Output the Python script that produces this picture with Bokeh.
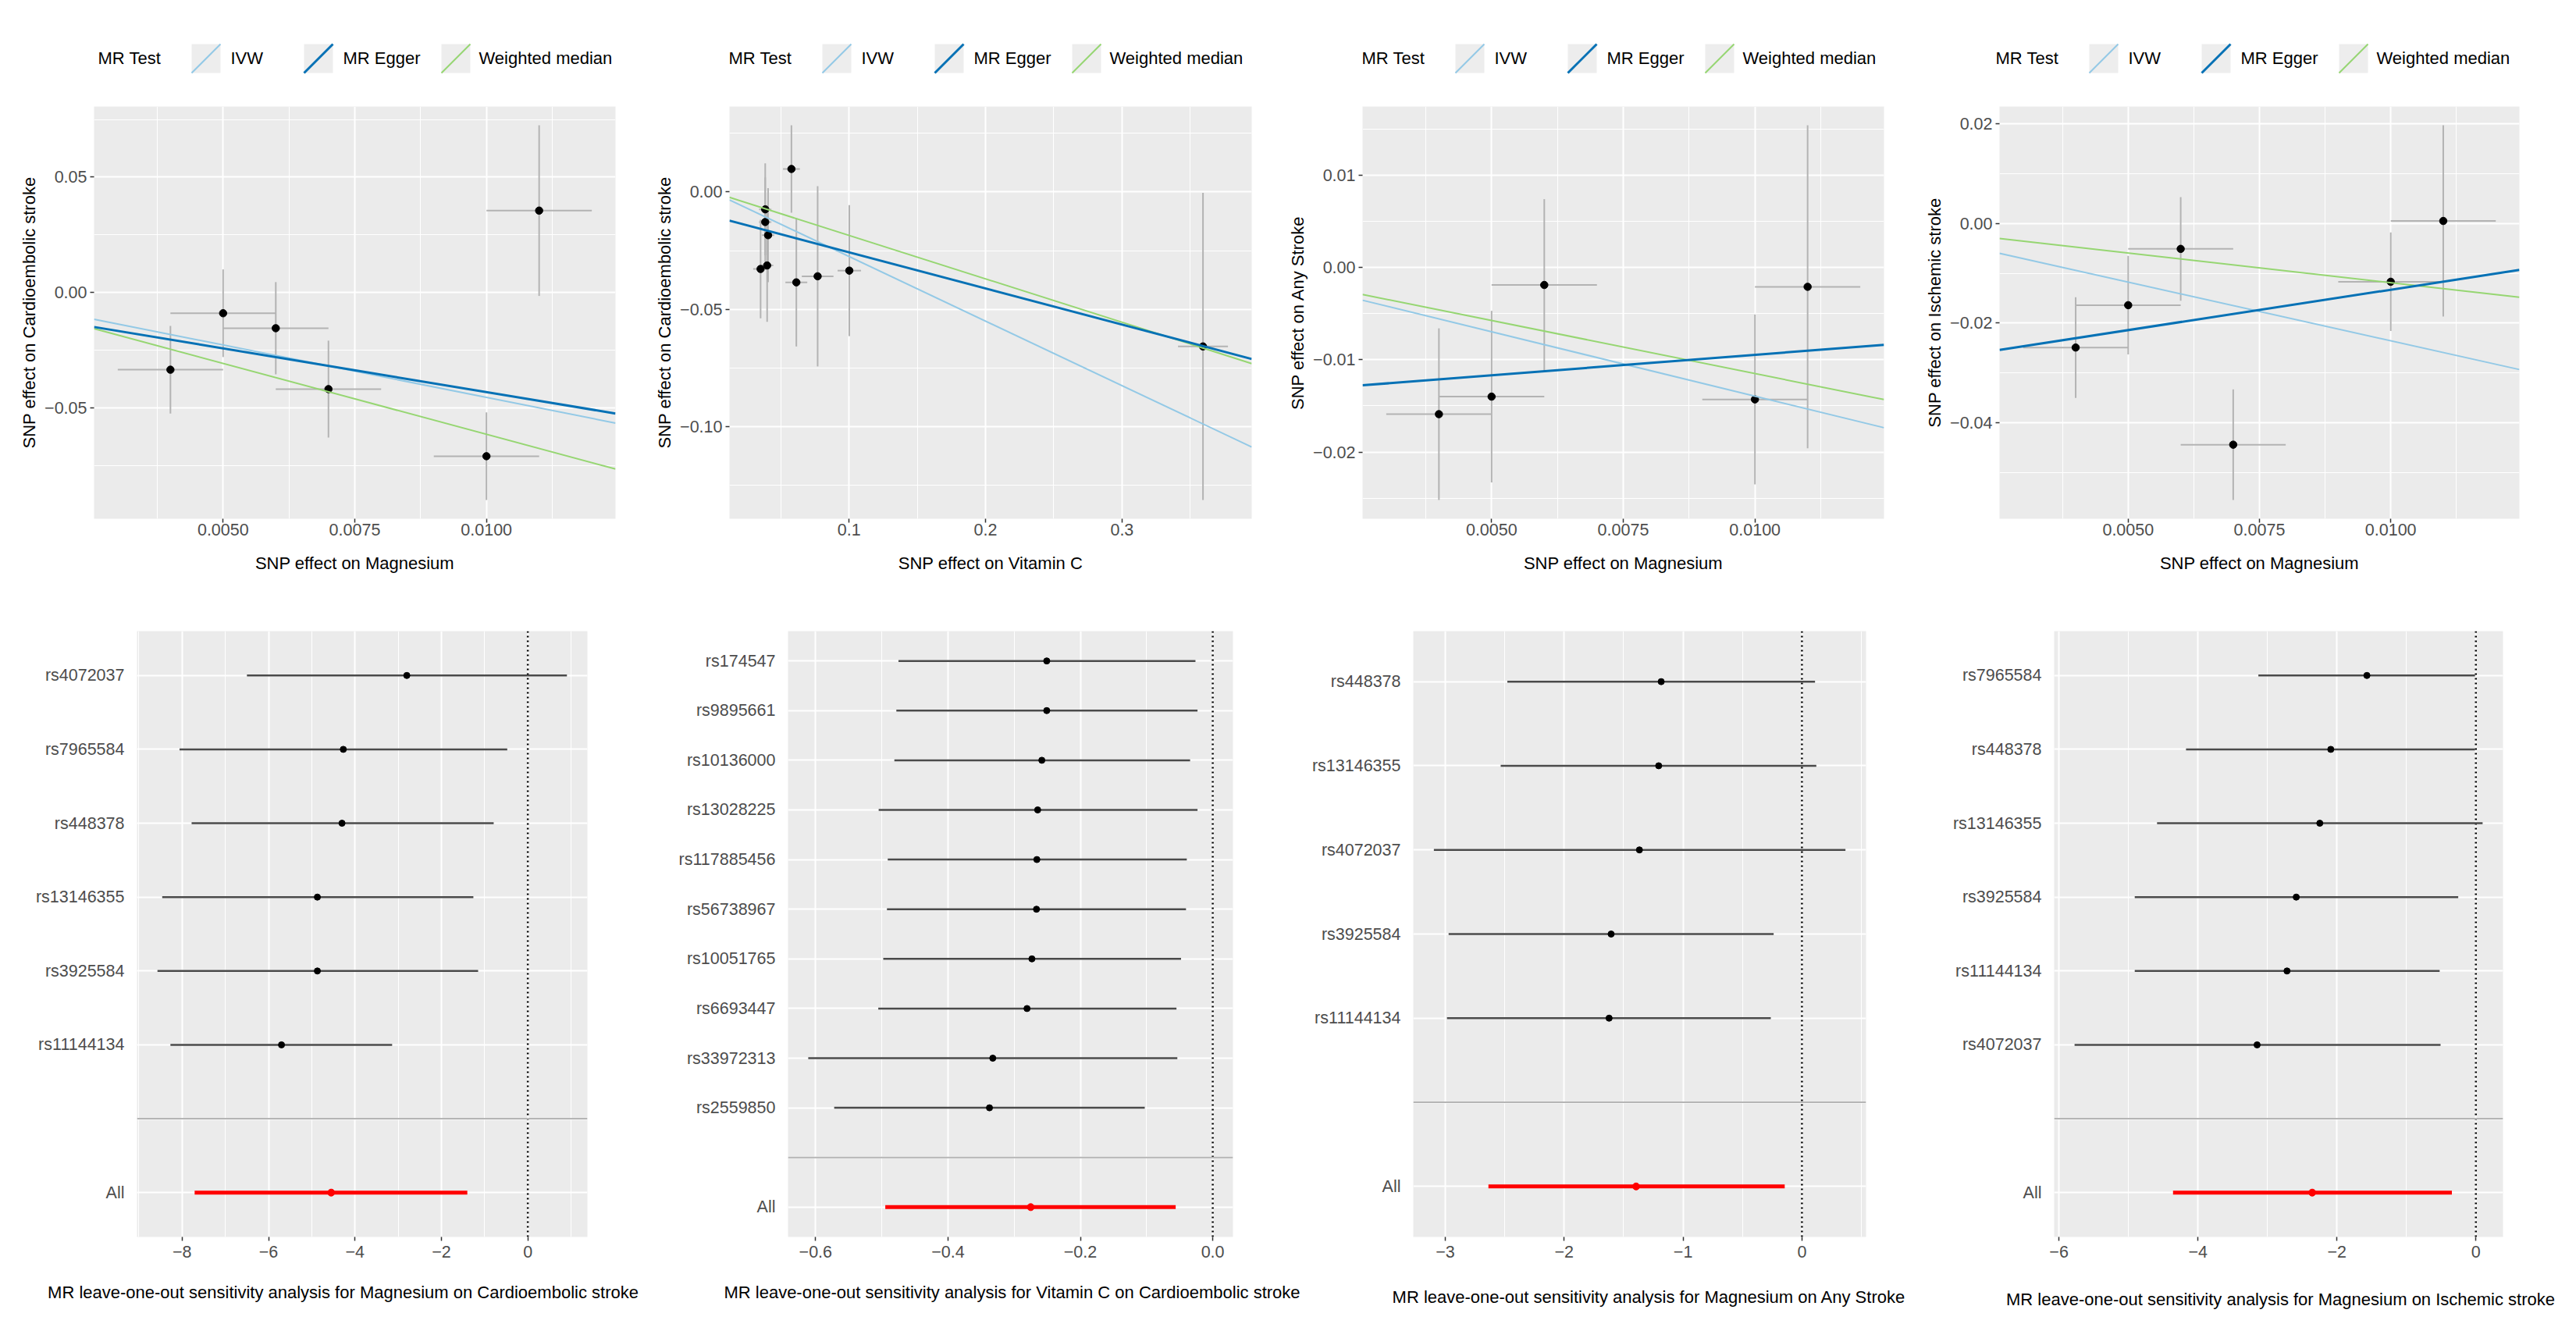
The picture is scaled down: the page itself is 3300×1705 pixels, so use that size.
from bokeh.plotting import figure
from bokeh.layouts import column, row
from bokeh.models import Range1d, FixedTicker, CustomJSTickFormatter, Span
from bokeh.embed import file_html
from bokeh.resources import INLINE
from bokeh.core.properties import value

FONT = "Liberation Sans"
TICK_SIZE = "21.5px"
TITLE_SIZE = "22px"

# MR methods shown in the scatter panels (order: IVW, MR Egger, Weighted median)
METHODS = ["IVW", "MR Egger", "Weighted median"]
METHOD_COLORS = ["#93C9E6", "#0571B5", "#96D672"]
METHOD_WIDTHS = [2, 3, 2]

# ---------------- SNP effects: Magnesium -> Cardioembolic stroke ----------------
mg_ce_bx = [0.004, 0.005, 0.006, 0.007, 0.010, 0.011]
mg_ce_sx = [0.001, 0.001, 0.001, 0.001, 0.001, 0.001]
mg_ce_by = [-0.0335, -0.0090, -0.0155, -0.0419, -0.0710, 0.0355]
mg_ce_sy = [0.019, 0.019, 0.020, 0.021, 0.019, 0.037]
mg_ce_intercepts = [0.0, -0.0053, 0.0]
mg_ce_slopes = [-4.55, -3.79, -6.15]

# ---------------- SNP effects: Vitamin C -> Cardioembolic stroke ----------------
vc_ce_bx = [0.0352, 0.0386, 0.0386, 0.0407, 0.0400, 0.0578, 0.0614, 0.0770, 0.1002, 0.3593]
vc_ce_sx = [0.0054, 0.0045, 0.0045, 0.0045, 0.0045, 0.0062, 0.0080, 0.0116, 0.0086, 0.0183]
vc_ce_by = [-0.0328, -0.0074, -0.0128, -0.0184, -0.0313, 0.0098, -0.0385, -0.0359, -0.0335, -0.0658]
vc_ce_sy = [0.0210, 0.0196, 0.0190, 0.0200, 0.0240, 0.0186, 0.0273, 0.0384, 0.0279, 0.0654]
vc_ce_intercepts = [0.0, -0.0103, 0.0]
vc_ce_slopes = [-0.275, -0.154, -0.185]

# ---------------- SNP effects: Magnesium -> Any Stroke ----------------
mg_as_bx = [0.004, 0.005, 0.006, 0.010, 0.011]
mg_as_sx = [0.001, 0.001, 0.001, 0.001, 0.001]
mg_as_by = [-0.0159, -0.0140, -0.0019, -0.0143, -0.0021]
mg_as_sy = [0.0093, 0.0093, 0.0093, 0.0092, 0.0175]
mg_as_intercepts = [0.0, -0.0139, 0.0]
mg_as_slopes = [-1.395, 0.443, -1.15]

# ---------------- SNP effects: Magnesium -> Ischemic stroke ----------------
mg_is_bx = [0.004, 0.005, 0.006, 0.007, 0.010, 0.011]
mg_is_sx = [0.001, 0.001, 0.001, 0.001, 0.001, 0.001]
mg_is_by = [-0.0249, -0.0164, -0.0051, -0.0444, -0.0117, 0.0005]
mg_is_sy = [0.0101, 0.0099, 0.0104, 0.0111, 0.0099, 0.0192]
mg_is_intercepts = [0.0, -0.0295, 0.0]
mg_is_slopes = [-2.355, 1.62, -1.19]

# Scatter axis ticks
mg_x_ticks = [0.005, 0.0075, 0.010]
mg_x_minor = [0.00375, 0.00625, 0.00875, 0.01125]
vc_x_ticks = [0.1, 0.2, 0.3]
vc_x_minor = [0.05, 0.15, 0.25, 0.35]
mg_ce_y_ticks = [-0.05, 0.0, 0.05]
mg_ce_y_minor = [-0.075, -0.025, 0.025, 0.075]
vc_ce_y_ticks = [-0.10, -0.05, 0.0]
vc_ce_y_minor = [-0.125, -0.075, -0.025, 0.025]
mg_as_y_ticks = [-0.02, -0.01, 0.0, 0.01]
mg_as_y_minor = [-0.025, -0.015, -0.005, 0.005, 0.015]
mg_is_y_ticks = [-0.04, -0.02, 0.0, 0.02]
mg_is_y_minor = [-0.05, -0.03, -0.01, 0.01]

# ---------------- Leave-one-out estimates ----------------
loo1_snps = ["rs4072037", "rs7965584", "rs448378", "rs13146355", "rs3925584", "rs11144134"]
loo1_b = [-2.80, -4.27, -4.30, -4.87, -4.87, -5.70]
loo1_lo = [-6.50, -8.06, -7.78, -8.46, -8.57, -8.27]
loo1_hi = [0.905, -0.476, -0.79, -1.26, -1.15, -3.14]
loo1_all = [-4.55, -7.71, -1.40]
loo1_ticks = [-8, -6, -4, -2, 0]
loo1_minor = [-9, -7, -5, -3, -1, 1]

loo2_snps = ["rs174547", "rs9895661", "rs10136000", "rs13028225", "rs117885456",
             "rs56738967", "rs10051765", "rs6693447", "rs33972313", "rs2559850"]
loo2_b = [-0.2508, -0.2508, -0.2582, -0.2645, -0.2657, -0.2663, -0.2732, -0.2806, -0.3323, -0.3373]
loo2_lo = [-0.4748, -0.478, -0.481, -0.5047, -0.491, -0.4922, -0.4978, -0.5053, -0.6111, -0.5719]
loo2_hi = [-0.0261, -0.023, -0.0342, -0.023, -0.0392, -0.0404, -0.0479, -0.0548, -0.0535, -0.1027]
loo2_all = [-0.275, -0.4947, -0.056]
loo2_ticks = [-0.6, -0.4, -0.2, 0.0]
loo2_minor = [-0.5, -0.3, -0.1]

loo3_snps = ["rs448378", "rs13146355", "rs4072037", "rs3925584", "rs11144134"]
loo3_b = [-1.184, -1.205, -1.367, -1.605, -1.622]
loo3_lo = [-2.478, -2.534, -3.096, -2.972, -2.986]
loo3_hi = [0.110, 0.121, 0.366, -0.238, -0.262]
loo3_all = [-1.395, -2.637, -0.145]
loo3_ticks = [-3, -2, -1, 0]
loo3_minor = [-2.5, -1.5, -0.5, 0.5]

loo4_snps = ["rs7965584", "rs448378", "rs13146355", "rs3925584", "rs11144134", "rs4072037"]
loo4_b = [-1.568, -2.088, -2.246, -2.585, -2.718, -3.148]
loo4_lo = [-3.13, -4.171, -4.588, -4.909, -4.909, -5.775]
loo4_hi = [-0.012, -0.012, 0.097, -0.254, -0.521, -0.508]
loo4_all = [-2.355, -4.358, -0.345]
loo4_ticks = [-6, -4, -2, 0]
loo4_minor = [-5, -3, -1]

loo_titles = [
    "MR leave-one-out sensitivity analysis for Magnesium on Cardioembolic stroke",
    "MR leave-one-out sensitivity analysis for Vitamin C on Cardioembolic stroke",
    "MR leave-one-out sensitivity analysis for Magnesium on Any Stroke",
    "MR leave-one-out sensitivity analysis for Magnesium on Ischemic stroke",
]

# ---------------- layout ----------------
COL_W = [825, 815, 820, 840]
LEGEND_H, SCATTER_H, FOREST_H, TITLE_H = 100, 670, 870, 65


def expand(lo, hi, frac=0.05):
    pad = (hi - lo) * frac
    return lo - pad, hi + pad


def minus_formatter(decimals):
    return CustomJSTickFormatter(args=dict(dec=decimals), code="""
        const s = Math.abs(tick).toFixed(dec);
        return (tick < 0 && parseFloat(s) !== 0 ? "\\u2212" : "") + s;
    """)


def style_panel(p):
    p.background_fill_color = "#EBEBEB"
    p.border_fill_color = "white"
    p.outline_line_color = None
    for ax in (p.xaxis[0], p.yaxis[0]):
        ax.axis_line_color = None
        ax.major_tick_line_color = "#333333"
        ax.major_tick_line_width = 1.5
        ax.major_tick_out = 5
        ax.major_tick_in = 0
        ax.minor_tick_line_color = None
        ax.minor_tick_out = 0
        ax.minor_tick_in = 0
        ax.major_label_text_font = FONT
        ax.major_label_text_font_size = TICK_SIZE
        ax.major_label_text_color = "#4D4D4D"
        ax.axis_label_text_font = FONT
        ax.axis_label_text_font_size = TITLE_SIZE
        ax.axis_label_text_font_style = "normal"
        ax.axis_label_text_color = "black"
    p.grid.grid_line_color = "white"
    p.grid.grid_line_width = 2
    p.grid.minor_grid_line_color = "white"
    p.grid.minor_grid_line_width = 1


def scatter_panel(bx, sx, by, sy, intercepts, slopes, xt, xm, yt, ym, xdec, ydec,
                  xlab, ylab, width, borders):
    left, right, top, bottom = borders
    x0, x1 = expand(min(b - s for b, s in zip(bx, sx)), max(b + s for b, s in zip(bx, sx)))
    y0, y1 = expand(min(b - s for b, s in zip(by, sy)), max(b + s for b, s in zip(by, sy)))
    p = figure(width=width, height=SCATTER_H, title=None,
               x_range=Range1d(x0, x1), y_range=Range1d(y0, y1),
               output_backend="svg", toolbar_location=None,
               min_border_left=left, min_border_right=right,
               min_border_top=top, min_border_bottom=bottom)
    style_panel(p)
    xtk = FixedTicker(ticks=xt, minor_ticks=xm)
    ytk = FixedTicker(ticks=yt, minor_ticks=ym)
    p.xaxis.ticker = xtk
    p.xgrid.ticker = xtk
    p.yaxis.ticker = ytk
    p.ygrid.ticker = ytk
    p.xaxis.formatter = minus_formatter(xdec)
    p.yaxis.formatter = minus_formatter(ydec)
    p.xaxis.axis_label = xlab
    p.yaxis.axis_label = ylab
    p.xaxis.major_label_standoff = 1
    p.xaxis.axis_label_standoff = 20
    p.yaxis.major_label_standoff = 4
    p.yaxis.axis_label_standoff = 4

    err = "#B3B3B3"
    p.segment(x0=bx, y0=[b - s for b, s in zip(by, sy)], x1=bx, y1=[b + s for b, s in zip(by, sy)],
              line_color=err, line_width=2)
    p.segment(x0=[b - s for b, s in zip(bx, sx)], y0=by, x1=[b + s for b, s in zip(bx, sx)], y1=by,
              line_color=err, line_width=2)
    p.scatter(bx, by, size=9.5, color="black")
    # fitted MR lines (dark Egger line on top)
    for i in (0, 2, 1):
        a, b = intercepts[i], slopes[i]
        p.line([x0, x1], [a + b * x0, a + b * x1],
               line_color=METHOD_COLORS[i], line_width=METHOD_WIDTHS[i])
    return p


def forest_panel(snps, est, lo, hi, overall, xt, xm, xdec, width, borders):
    left, right, top, bottom = borders
    n = len(snps)
    labels = snps + ["", "All"]
    rows = list(range(1, n + 1))
    blank_row, all_row = n + 1, n + 2
    all_b, all_lo, all_hi = overall
    x0, x1 = expand(min(min(lo), all_lo, 0.0), max(max(hi), all_hi, 0.0))
    p = figure(width=width, height=FOREST_H, title=None,
               x_range=Range1d(x0, x1), y_range=Range1d(n + 2.6, 0.4),
               output_backend="svg", toolbar_location=None,
               min_border_left=left, min_border_right=right,
               min_border_top=top, min_border_bottom=bottom)
    style_panel(p)
    xtk = FixedTicker(ticks=xt, minor_ticks=xm)
    ytk = FixedTicker(ticks=list(range(1, n + 3)), minor_ticks=[])
    p.xaxis.ticker = xtk
    p.xgrid.ticker = xtk
    p.yaxis.ticker = ytk
    p.ygrid.ticker = ytk
    p.ygrid.minor_grid_line_color = None
    p.xaxis.formatter = minus_formatter(xdec)
    p.yaxis.formatter = CustomJSTickFormatter(args=dict(labels=labels), code="""
        const i = Math.round(tick) - 1;
        return (i >= 0 && i < labels.length) ? labels[i] : "";
    """)
    p.xaxis.major_label_standoff = 6
    p.yaxis.major_tick_line_color = None
    p.yaxis.major_tick_out = 0
    p.yaxis.major_label_standoff = 16

    p.add_layout(Span(location=0, dimension="height", line_color="black",
                      line_dash="2 4", line_width=2.5, level="underlay"))
    p.add_layout(Span(location=blank_row, dimension="width", line_color="#B5B5B5",
                      line_width=2, level="underlay"))
    p.segment(x0=lo, y0=rows, x1=hi, y1=rows, line_color="#4A4A4A", line_width=2.5)
    p.scatter(est, rows, size=8, color="black")
    p.segment(x0=[all_lo], y0=[all_row], x1=[all_hi], y1=[all_row], line_color="red", line_width=5)
    p.scatter([all_b], [all_row], size=9, color="red")
    return p


def strip(height):
    p = figure(width=sum(COL_W), height=height, title=None,
               x_range=Range1d(0, sum(COL_W)), y_range=Range1d(height, 0),
               x_axis_type=None, y_axis_type=None,
               output_backend="svg", toolbar_location=None, min_border=0)
    p.outline_line_color = None
    p.background_fill_color = "white"
    p.border_fill_color = "white"
    return p


# ---------------- legend strip above the scatter panels ----------------
legend = strip(LEGEND_H)
legend_starts = [125, 933, 1744, 2556]
key_offsets = [120, 264, 440]
label_offsets = [170, 314, 488]
KEY = 37
KEY_TOP = 56
for start in legend_starts:
    legend.text(x=[start], y=[74], text=["MR Test"], text_font=value(FONT),
                text_font_size=TITLE_SIZE, text_baseline="middle", text_color="black")
    for name, color, lw, ko, lo_ in zip(METHODS, METHOD_COLORS, METHOD_WIDTHS, key_offsets, label_offsets):
        kx = start + ko
        legend.quad(left=[kx], right=[kx + KEY], top=[KEY_TOP], bottom=[KEY_TOP + KEY],
                    fill_color="#EDEDED", line_color=None)
        legend.segment(x0=[kx], y0=[KEY_TOP + KEY], x1=[kx + KEY], y1=[KEY_TOP],
                       line_color=color, line_width=lw)
        legend.text(x=[start + lo_], y=[74], text=[name], text_font=value(FONT),
                    text_font_size=TITLE_SIZE, text_baseline="middle", text_color="black")

# ---------------- scatter panels ----------------
s1 = scatter_panel(mg_ce_bx, mg_ce_sx, mg_ce_by, mg_ce_sy, mg_ce_intercepts, mg_ce_slopes,
                   mg_x_ticks, mg_x_minor, mg_ce_y_ticks, mg_ce_y_minor, 4, 2,
                   "SNP effect on Magnesium", "SNP effect on Cardioembolic stroke",
                   COL_W[0], (120, 37, 23, 106))
s2 = scatter_panel(vc_ce_bx, vc_ce_sx, vc_ce_by, vc_ce_sy, vc_ce_intercepts, vc_ce_slopes,
                   vc_x_ticks, vc_x_minor, vc_ce_y_ticks, vc_ce_y_minor, 1, 2,
                   "SNP effect on Vitamin C", "SNP effect on Cardioembolic stroke",
                   COL_W[1], (109, 37, 26, 102))
s3 = scatter_panel(mg_as_bx, mg_as_sx, mg_as_by, mg_as_sy, mg_as_intercepts, mg_as_slopes,
                   mg_x_ticks, mg_x_minor, mg_as_y_ticks, mg_as_y_minor, 4, 2,
                   "SNP effect on Magnesium", "SNP effect on Any Stroke",
                   COL_W[2], (105, 47, 30, 99))
s4 = scatter_panel(mg_is_bx, mg_is_sx, mg_is_by, mg_is_sy, mg_is_intercepts, mg_is_slopes,
                   mg_x_ticks, mg_x_minor, mg_is_y_ticks, mg_is_y_minor, 4, 2,
                   "SNP effect on Magnesium", "SNP effect on Ischemic stroke",
                   COL_W[3], (101, 73, 36, 93))

# ---------------- leave-one-out panels ----------------
f1 = forest_panel(loo1_snps, loo1_b, loo1_lo, loo1_hi, loo1_all, loo1_ticks, loo1_minor, 0,
                  COL_W[0], (175, 73, 38, 55))
f2 = forest_panel(loo2_snps, loo2_b, loo2_lo, loo2_hi, loo2_all, loo2_ticks, loo2_minor, 1,
                  COL_W[1], (184, 61, 37, 55))
f3 = forest_panel(loo3_snps, loo3_b, loo3_lo, loo3_hi, loo3_all, loo3_ticks, loo3_minor, 0,
                  COL_W[2], (170, 70, 38, 49))
f4 = forest_panel(loo4_snps, loo4_b, loo4_lo, loo4_hi, loo4_all, loo4_ticks, loo4_minor, 0,
                  COL_W[3], (171, 94, 37, 56))

# ---------------- titles under the leave-one-out panels ----------------
titles = strip(TITLE_H)
titles.text(x=[439, 1296, 2112, 2921], y=[15, 15, 21, 24], text=loo_titles,
            text_font=value(FONT), text_font_size=TITLE_SIZE, text_align="center",
            text_baseline="middle", text_color="black")

layout = column(legend, row(s1, s2, s3, s4), row(f1, f2, f3, f4), titles)

open("out.html", "w").write(file_html(layout, INLINE))
